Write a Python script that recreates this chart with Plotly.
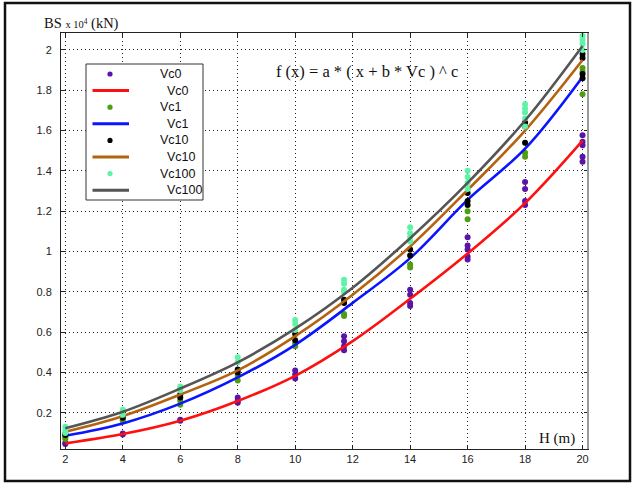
import plotly.graph_objects as go

# ---- data ----
H_fit = [2, 4, 6, 8, 10, 12, 14, 16, 18, 20]
fit_vc0 = [0.048, 0.094, 0.16, 0.258, 0.383, 0.555, 0.765, 0.99, 1.24, 1.55]
fit_vc1 = [0.086, 0.147, 0.245, 0.375, 0.537, 0.745, 0.967, 1.256, 1.51, 1.866]
fit_vc10 = [0.106, 0.183, 0.29, 0.41, 0.58, 0.785, 1.025, 1.305, 1.60, 1.95]
fit_vc100 = [0.123, 0.205, 0.32, 0.45, 0.617, 0.82, 1.066, 1.34, 1.65, 2.02]

pts_vc0_x = [2, 2, 4, 4, 6, 6, 8, 8, 8, 10, 10, 10, 11.7, 11.7, 11.7, 11.7,
             14, 14, 14, 14, 16, 16, 16, 16, 16, 18, 18, 18, 18, 20, 20, 20, 20, 20]
pts_vc0_y = [0.05, 0.045, 0.097, 0.092, 0.165, 0.16, 0.275, 0.26, 0.25, 0.41, 0.39, 0.37,
             0.58, 0.555, 0.53, 0.51, 0.81, 0.785, 0.745, 0.73, 1.07, 1.03, 1.01, 0.975, 0.96,
             1.345, 1.31, 1.25, 1.23, 1.577, 1.544, 1.527, 1.47, 1.445]

pts_vc1_x = [2, 2, 4, 4, 6, 6, 8, 8, 10, 10, 11.7, 11.7, 14, 14, 16, 16, 18, 18, 20, 20, 20]
pts_vc1_y = [0.078, 0.07, 0.165, 0.16, 0.26, 0.24, 0.385, 0.36, 0.545, 0.53, 0.69, 0.68,
             0.935, 0.92, 1.20, 1.16, 1.49, 1.47, 1.91, 1.89, 1.78]

pts_vc10_x = [2, 2, 4, 4, 6, 6, 8, 8, 10, 10, 11.7, 11.7, 14, 14, 16, 16, 16,
              18, 18, 18, 20, 20, 20, 20]
pts_vc10_y = [0.095, 0.09, 0.185, 0.175, 0.29, 0.275, 0.415, 0.40, 0.59, 0.56, 0.76, 0.745,
              1.01, 0.98, 1.29, 1.25, 1.23, 1.64, 1.62, 1.54, 1.98, 1.96, 1.88, 1.86]

pts_vc100_x = [2, 2, 2, 4, 4, 6, 6, 8, 8, 10, 10, 10, 11.7, 11.7, 11.7, 11.7,
               14, 14, 14, 14, 16, 16, 16, 16, 18, 18, 18, 18, 18, 20, 20, 20, 20]
pts_vc100_y = [0.13, 0.11, 0.10, 0.215, 0.19, 0.33, 0.31, 0.475, 0.45, 0.66, 0.64, 0.61,
               0.86, 0.84, 0.81, 0.80, 1.12, 1.09, 1.07, 1.05, 1.40, 1.37, 1.34, 1.31,
               1.73, 1.71, 1.69, 1.66, 1.62, 2.07, 2.05, 2.03, 2.00]

x_ticks = [2, 4, 6, 8, 10, 12, 14, 16, 18, 20]
y_ticks = [0.2, 0.4, 0.6, 0.8, 1.0, 1.2, 1.4, 1.6, 1.8, 2.0]
y_tick_labels = ["0.2", "0.4", "0.6", "0.8", "1", "1.2", "1.4", "1.6", "1.8", "2"]

names = ["Vc0", "Vc1", "Vc10", "Vc100"]
pt_colors = ["#5a14a8", "#4f9e12", "#000000", "#5ef3a6"]
line_colors = ["#ff1010", "#0a14ff", "#b5620f", "#555555"]

# ---- geometry helpers (pixel -> paper) ----
L, R, T, B = 61, 47, 33, 36
W, Hh = 635, 485
PW, PH = W - L - R, Hh - T - B


def fx(px):
    return (px - L) / PW


def fy(py):
    return (Hh - B - py) / PH


fig = go.Figure()
groups = [
    (pts_vc0_x, pts_vc0_y, fit_vc0),
    (pts_vc1_x, pts_vc1_y, fit_vc1),
    (pts_vc10_x, pts_vc10_y, fit_vc10),
    (pts_vc100_x, pts_vc100_y, fit_vc100),
]
for i, (px, py, fyv) in enumerate(groups):
    fig.add_trace(go.Scatter(
        x=px, y=py, mode="markers", name=names[i], showlegend=False,
        marker=dict(color=pt_colors[i], size=6, line=dict(width=0)),
    ))
    fig.add_trace(go.Scatter(
        x=H_fit, y=fyv, mode="lines", name=names[i], showlegend=False,
        line=dict(color=line_colors[i], width=2.6, shape="spline", smoothing=1.0),
    ))

grid = dict(showgrid=True, gridcolor="#222222", gridwidth=1, griddash="1px,3px")
fig.update_xaxes(
    range=[1.85, 20.19], tickvals=x_ticks, ticktext=[str(v) for v in x_ticks],
    ticks="inside", ticklen=4, tickcolor="#222", mirror="allticks",
    showline=True, linecolor="#222", linewidth=1, zeroline=False,
    tickfont=dict(family="Liberation Sans, Arial", size=11, color="#222"),
    **grid,
)
fig.update_yaxes(
    range=[0.02, 2.084], tickvals=y_ticks, ticktext=y_tick_labels,
    ticks="inside", ticklen=4, tickcolor="#222", mirror="allticks",
    showline=True, linecolor="#222", linewidth=1, zeroline=False,
    tickfont=dict(family="Liberation Sans, Arial", size=11, color="#222"),
    ticklabelstandoff=6,
    **grid,
)

# ---- manual legend (box 86..203 x 64..200, rows every ~16.6 px) ----
shapes = [
    dict(type="line", xref="paper", yref="paper", x0=1, x1=1, y0=0, y1=1,
         line=dict(color="#9a9a9a", width=2)),
    dict(type="rect", xref="paper", yref="paper",
         x0=fx(5), x1=fx(630), y0=fy(481), y1=fy(3),
         line=dict(color="#111", width=2.5), fillcolor="rgba(0,0,0,0)"),
    dict(type="rect", xref="paper", yref="paper",
         x0=fx(86), x1=fx(203), y0=fy(200), y1=fy(64),
         line=dict(color="#333", width=1), fillcolor="white", layer="above"),
]
annotations = [
    dict(text="BS <span style='font-size:10.5px'>x 10<sup>4</sup></span> (kN)",
         xref="paper", yref="paper", x=fx(42), y=fy(23),
         xanchor="left", yanchor="middle", showarrow=False,
         font=dict(family="Liberation Serif, Times New Roman", size=14.5, color="#111")),
    dict(text="H (m)", xref="paper", yref="paper",
         x=fx(577), y=fy(438),
         xanchor="right", yanchor="middle", showarrow=False,
         font=dict(family="Liberation Serif, Times New Roman", size=15, color="#111")),
    dict(text="f (x) = a * ( x + b * Vc ) ^ c", xref="paper", yref="paper",
         x=fx(367), y=fy(71),
         xanchor="center", yanchor="middle", showarrow=False,
         font=dict(family="Liberation Serif, Times New Roman", size=16.5, color="#111")),
]
row0, step = 74.0, 16.6
for i in range(4):
    ym = row0 + (2 * i) * step
    yl = row0 + (2 * i + 1) * step
    r = 2.6
    shapes.append(dict(type="circle", xref="paper", yref="paper",
                       x0=fx(110 - r), x1=fx(110 + r), y0=fy(ym + r), y1=fy(ym - r),
                       fillcolor=pt_colors[i], line=dict(width=0), layer="above"))
    shapes.append(dict(type="line", xref="paper", yref="paper",
                       x0=fx(92.5), x1=fx(129), y0=fy(yl), y1=fy(yl),
                       line=dict(color=line_colors[i], width=3), layer="above"))
    annotations.append(dict(text=names[i], xref="paper", yref="paper",
                            x=fx(158), y=fy(ym), xanchor="left", yanchor="middle",
                            showarrow=False,
                            font=dict(family="Liberation Sans, Arial", size=12.5, color="#111")))
    annotations.append(dict(text=names[i], xref="paper", yref="paper",
                            x=fx(165), y=fy(yl), xanchor="left", yanchor="middle",
                            showarrow=False,
                            font=dict(family="Liberation Sans, Arial", size=12.5, color="#111")))

fig.update_layout(
    width=W, height=Hh,
    margin=dict(l=L, r=R, t=T, b=B),
    paper_bgcolor="white", plot_bgcolor="white",
    showlegend=False,
    annotations=annotations,
    shapes=shapes,
)

fig.write_html("out.html")
